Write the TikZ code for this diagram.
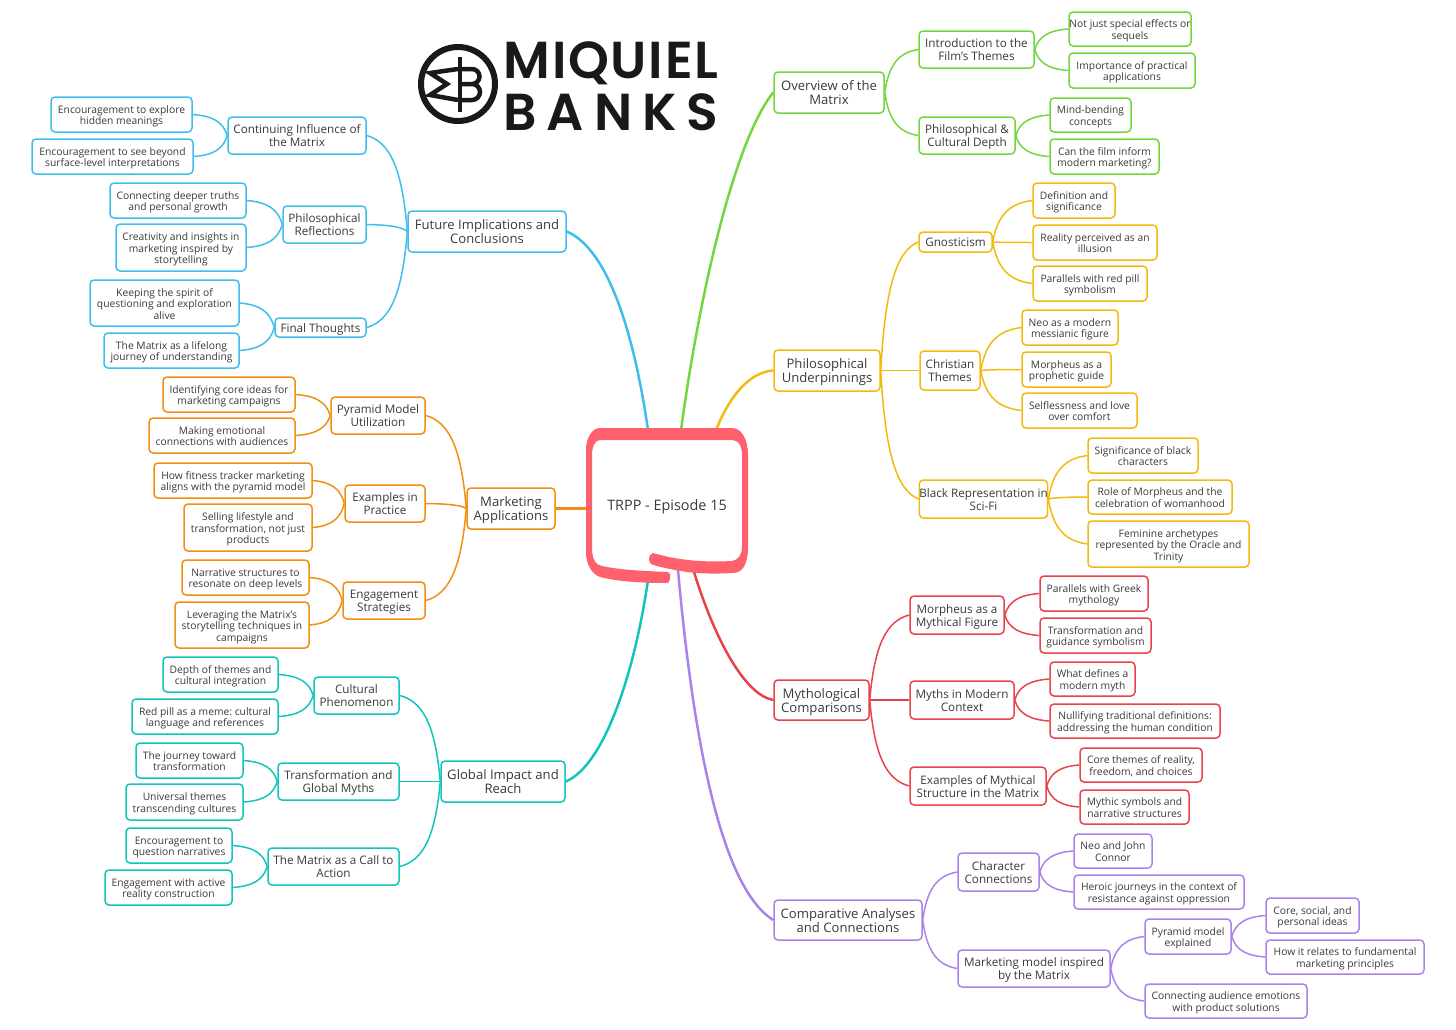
\documentclass[tikz,border=0pt]{standalone}
\usepackage{fontspec}
\setmainfont{Open Sans}
\newfontfamily\logofont{Poppins SemiBold}
\usetikzlibrary{calc}
\frenchspacing
\definecolor{txtc}{HTML}{3A3A3A}
\definecolor{rootc}{HTML}{FF616C}
\definecolor{grnc}{HTML}{74D63E}
\definecolor{ylwc}{HTML}{F2B90F}
\definecolor{redc}{HTML}{E8434B}
\definecolor{purc}{HTML}{AB82EA}
\definecolor{bluc}{HTML}{3FBEEE}
\definecolor{orgc}{HTML}{F28E10}
\definecolor{tealc}{HTML}{12C4BC}
\tikzset{
  box/.style={rounded corners=4pt,inner sep=0pt,text=txtc,line width=1.5pt,fill=white},
  leaf/.style={box,font=\fontsize{10.3}{11.5}\selectfont},
  sub/.style={box,font=\fontsize{11.7}{13}\selectfont},
  topic/.style={box,font=\fontsize{13.1}{14}\selectfont},
  lk/.style={line width=1.5pt},
  rootlk/.style={line width=2.5pt}
}
% box from its corners in reference pixels
\newcommand\mapnode[7][leaf]{\node[#1,minimum width={(#5-#3)*1pt},minimum height={(#6-#4)*1pt}]
  (#2) at ({(#3+#5)/2},{(#4+#6)/2})
  {\raisebox{-2.2pt}[\height][\depth]{\begin{tabular}{@{}c@{}}#7\end{tabular}}};}
\newcommand\lnk[2]{\draw[lk] let \p1=(#1),\p2=(#2) in (\p1)
  .. controls ({\x1+0.12*(\x2-\x1)},{\y1+0.65*(\y2-\y1)}) and ({\x1+0.42*(\x2-\x1)},{\y1+0.93*(\y2-\y1)}) .. (\p2);}
\begin{document}
\begin{tikzpicture}[x=1pt,y=-1pt]
\useasboundingbox(0,0)rectangle(1456,1029);
% logo
\draw[line width=6pt,black!90](458,84)circle(37);
\draw[line width=4.5pt,black!90,line join=miter](458,69)--(430,73)--(447,84)--(430,95)--(458,100);
\draw[line width=3.5pt,black!90](460,57)--(460,112);
\draw[line width=4.5pt,black!90](460,69)--(472,69)arc(-90:90:7.5)--(460,84)(472,84)arc(-90:90:8)--(460,100);
\node[inner sep=0pt,text=black!90] (miquiel) at (611,63)
  {\makebox[215pt][s]{\fontsize{52}{52}\logofont M\hfill I\hfill Q\hfill U\hfill I\hfill E\hfill L}};
\node[inner sep=0pt,text=black!90] (banks) at (611,112)
  {\makebox[215pt][s]{\fontsize{52}{52}\logofont B\hfill A\hfill N\hfill K\hfill S}};
% green branch
\begin{scope}[draw=grnc,every node/.append style={draw=grnc}]
\mapnode[topic]{ovw}{774}{72}{884}{113}{Overview of the\\Matrix}
\mapnode[sub]{intro}{919}{31}{1034}{68}{Introduction to the\\Film's Themes}
\mapnode{sfx}{1069}{12}{1191}{46}{Not just special effects or\\sequels}
\mapnode{practical}{1069}{53}{1195}{88}{Importance of practical\\applications}
\mapnode[sub]{depth}{919}{117}{1015}{154}{Philosophical \&\\Cultural Depth}
\mapnode{mind}{1050}{98}{1131}{132}{Mind-bending\\concepts}
\mapnode{inform}{1050}{139}{1159}{174}{Can the film inform\\modern marketing?}
\foreach \a/\b in {ovw/intro,ovw/depth,intro/sfx,intro/practical,depth/mind,depth/inform}
  \lnk{\a.east}{\b.west};
\end{scope}
% yellow branch
\begin{scope}[draw=ylwc,every node/.append style={draw=ylwc}]
\mapnode[topic]{under}{774}{350}{880}{391}{Philosophical\\Underpinnings}
\mapnode[sub]{gnos}{919}{232}{992}{252}{Gnosticism}
\mapnode{defn}{1033}{183}{1115}{218}{Definition and\\significance}
\mapnode{illus}{1033}{225}{1157}{260}{Reality perceived as an\\illusion}
\mapnode{pill}{1033}{266}{1147}{301}{Parallels with red pill\\symbolism}
\mapnode[sub]{christ}{920}{351}{980}{390}{Christian\\Themes}
\mapnode{neo}{1022}{310}{1118}{345}{Neo as a modern\\messianic figure}
\mapnode{proph}{1022}{352}{1111}{387}{Morpheus as a\\prophetic guide}
\mapnode{selfl}{1022}{393}{1137}{428}{Selflessness and love\\over comfort}
\mapnode[sub]{black}{920}{480}{1047}{518}{Black Representation in\\Sci-Fi}
\mapnode{signif}{1088}{438}{1198}{473}{Significance of black\\characters}
\mapnode{role}{1088}{480}{1232}{514}{Role of Morpheus and the\\celebration of womanhood}
\mapnode{femin}{1088}{521}{1249}{567}{Feminine archetypes\\represented by the Oracle and\\Trinity}
\foreach \a/\b in {under/gnos,under/christ,under/black,gnos/defn,gnos/illus,gnos/pill,
  christ/neo,christ/proph,christ/selfl,black/signif,black/role,black/femin}
  \lnk{\a.east}{\b.west};
\end{scope}
% red branch
\begin{scope}[draw=redc,every node/.append style={draw=redc}]
\mapnode[topic]{mytho}{774}{680}{869}{720}{Mythological\\Comparisons}
\mapnode[sub]{figure}{910}{596}{1004}{634}{Morpheus as a\\Mythical Figure}
\mapnode{greek}{1040}{576}{1148}{611}{Parallels with Greek\\mythology}
\mapnode{guide}{1040}{618}{1151}{653}{Transformation and\\guidance symbolism}
\mapnode[sub]{modern}{910}{681}{1014}{719}{Myths in Modern\\Context}
\mapnode{defines}{1050}{662}{1135}{696}{What defines a\\modern myth}
\mapnode{nullify}{1050}{704}{1220}{738}{Nullifying traditional definitions:\\addressing the human condition}
\mapnode[sub]{struct}{910}{767}{1046}{805}{Examples of Mythical\\Structure in the Matrix}
\mapnode{coreth}{1080}{748}{1202}{782}{Core themes of reality,\\freedom, and choices}
\mapnode{mythic}{1080}{790}{1189}{824}{Mythic symbols and\\narrative structures}
\foreach \a/\b in {mytho/figure,mytho/modern,mytho/struct,figure/greek,figure/guide,
  modern/defines,modern/nullify,struct/coreth,struct/mythic}
  \lnk{\a.east}{\b.west};
\end{scope}
% purple branch
\begin{scope}[draw=purc,every node/.append style={draw=purc}]
\mapnode[topic]{compar}{774}{900}{922}{940}{Comparative Analyses\\and Connections}
\mapnode[sub]{charc}{958}{853}{1039}{891}{Character\\Connections}
\mapnode{connor}{1074}{834}{1152}{868}{Neo and John\\Connor}
\mapnode{heroic}{1074}{875}{1244}{909}{Heroic journeys in the context of\\resistance against oppression}
\mapnode[sub]{model}{958}{950}{1110}{987}{Marketing model inspired\\by the Matrix}
\mapnode{pyrex}{1145}{919}{1231}{954}{Pyramid model\\explained}
\mapnode{social}{1266}{898}{1359}{933}{Core, social, and\\personal ideas}
\mapnode{relates}{1266}{940}{1424}{974}{How it relates to fundamental\\marketing principles}
\mapnode{audience}{1145}{984}{1307}{1018}{Connecting audience emotions\\with product solutions}
\foreach \a/\b in {compar/charc,compar/model,charc/connor,charc/heroic,model/pyrex,
  model/audience,pyrex/social,pyrex/relates}
  \lnk{\a.east}{\b.west};
\end{scope}
% blue branch
\begin{scope}[draw=bluc,every node/.append style={draw=bluc}]
\mapnode[topic]{future}{408}{211}{566}{252}{Future Implications and\\Conclusions}
\mapnode[sub]{contin}{228}{117}{366}{154}{Continuing Influence of\\the Matrix}
\mapnode{hidden}{51}{97}{192}{132}{Encouragement to explore\\hidden meanings}
\mapnode{beyond}{32}{139}{193}{174}{Encouragement to see beyond\\surface-level interpretations}
\mapnode[sub]{reflect}{283}{206}{366}{243}{Philosophical\\Reflections}
\mapnode{truths}{110}{183}{246}{218}{Connecting deeper truths\\and personal growth}
\mapnode{creat}{116}{224}{246}{271}{Creativity and insights in\\marketing inspired by\\storytelling}
\mapnode[sub]{final}{275}{318}{366}{337}{Final Thoughts}
\mapnode{spirit}{90}{280}{239}{326}{Keeping the spirit of\\questioning and exploration\\alive}
\mapnode{lifelong}{104}{333}{239}{368}{The Matrix as a lifelong\\journey of understanding}
\foreach \a/\b in {future/contin,future/reflect,future/final,contin/hidden,contin/beyond,
  reflect/truths,reflect/creat,final/spirit,final/lifelong}
  \lnk{\a.west}{\b.east};
\end{scope}
% orange branch
\begin{scope}[draw=orgc,every node/.append style={draw=orgc}]
\mapnode[topic]{market}{467}{488}{555}{529}{Marketing\\Applications}
\mapnode[sub]{pyrut}{331}{397}{425}{434}{Pyramid Model\\Utilization}
\mapnode{ident}{163}{377}{295}{412}{Identifying core ideas for\\marketing campaigns}
\mapnode{emot}{149}{418}{295}{453}{Making emotional\\connections with audiences}
\mapnode[sub]{practice}{345}{485}{425}{522}{Examples in\\Practice}
\mapnode{fitness}{154}{463}{312}{498}{How fitness tracker marketing\\aligns with the pyramid model}
\mapnode{selling}{184}{504}{312}{551}{Selling lifestyle and\\transformation, not just\\products}
\mapnode[sub]{engage}{343}{582}{425}{619}{Engagement\\Strategies}
\mapnode{narr}{182}{560}{309}{595}{Narrative structures to\\resonate on deep levels}
\mapnode{lever}{175}{602}{309}{648}{Leveraging the Matrix's\\storytelling techniques in\\campaigns}
\foreach \a/\b in {market/pyrut,market/practice,market/engage,pyrut/ident,pyrut/emot,
  practice/fitness,practice/selling,engage/narr,engage/lever}
  \lnk{\a.west}{\b.east};
\end{scope}
% teal branch
\begin{scope}[draw=tealc,every node/.append style={draw=tealc}]
\mapnode[topic]{global}{441}{761}{565}{802}{Global Impact and\\Reach}
\mapnode[sub]{cultur}{314}{677}{399}{714}{Cultural\\Phenomenon}
\mapnode{themes}{163}{657}{278}{692}{Depth of themes and\\cultural integration}
\mapnode{meme}{132}{699}{278}{734}{Red pill as a meme: cultural\\language and references}
\mapnode[sub]{transf}{278}{763}{399}{800}{Transformation and\\Global Myths}
\mapnode{journey}{136}{743}{243}{778}{The journey toward\\transformation}
\mapnode{univ}{126}{784}{243}{820}{Universal themes\\transcending cultures}
\mapnode[sub]{call}{268}{848}{399}{885}{The Matrix as a Call to\\Action}
\mapnode{quest}{126}{828}{232}{863}{Encouragement to\\question narratives}
\mapnode{active}{105}{870}{232}{905}{Engagement with active\\reality construction}
\foreach \a/\b in {global/cultur,global/transf,global/call,cultur/themes,cultur/meme,
  transf/journey,transf/univ,call/quest,call/active}
  \lnk{\a.west}{\b.east};
\end{scope}
% centre
\node[inner sep=0pt,text=txtc,font=\fontsize{14.4}{16}\selectfont] (root) at (667,507) {TRPP - Episode 15};
\coordinate (rootov) at (681,430);
\coordinate (rootun) at (716,430);
\coordinate (rootmy) at (694,572);
\coordinate (rootco) at (678,570);
\coordinate (rootfu) at (648,430);
\coordinate (rootma) at (588,508.5);
\coordinate (rootgl) at (648,580);
\draw[rootlk,grnc](rootov)..controls(700,290)and(735,140)..(ovw.west);
\draw[rootlk,ylwc](rootun)..controls(730,395)and(750,372)..(under.west);
\draw[rootlk,redc](rootmy)..controls(715,640)and(745,695)..(mytho.west);
\draw[rootlk,purc](rootco)..controls(695,760)and(725,890)..(compar.west);
\draw[rootlk,bluc](rootfu)..controls(635,340)and(610,250)..(future.east);
\draw[rootlk,orgc](rootma)--(market.east);
\draw[rootlk,tealc](rootgl)..controls(635,670)and(605,765)..(global.east);
\fill[rootc](600,428)--(732,428)..controls(742,428)and(748,440)..(748,455)--(748,547)
  ..controls(748,565)and(742,573)..(733,573)..controls(715,574)and(695,574)..(675,570)
  ..controls(665,568)and(655,566)..(651,564)..controls(648,561)and(648,555)..(653,553)
  ..controls(670,558)and(695,563)..(732,561)..controls(738,560)and(742,555)..(742,547)
  --(742,455)..controls(742,445)and(738,440)..(732,440)--(600,440)
  ..controls(595,440)and(592,447)..(592,455)--(592,547)..controls(592,558)and(595,565)..(602,566)
  ..controls(620,570)and(645,571)..(668,572)..controls(671,573)and(671,580)..(668,583)
  ..controls(645,583)and(620,582)..(600,577)..controls(592,574)and(586,565)..(586,552)
  --(586,450)..controls(586,438)and(592,428)..(600,428)--cycle;
\end{tikzpicture}
\end{document}
